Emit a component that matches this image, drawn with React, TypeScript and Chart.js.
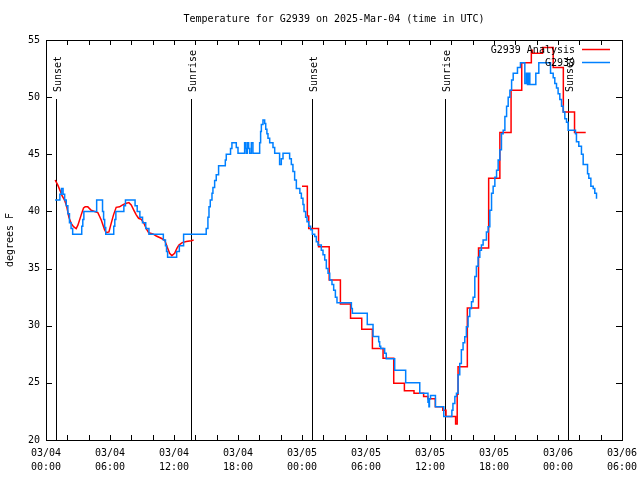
import React, { useEffect, useRef } from "react";
import { Chart, registerables } from "chart.js";

Chart.register(...registerables);

const TITLE = "Temperature for G2939 on 2025-Mar-04 (time in UTC)";
const Y_TITLE = "degrees F";
const SERIES_NAMES = ["G2939 Analysis", "G2939"];
const SERIES_COLORS = ["#ff0000", "#0080ff"];

// hours since 03/04 00:00 UTC
const X_MIN = 0;
const X_MAX = 54;
const Y_MIN = 20;
const Y_MAX = 55;
const Y_TICKS = [20, 25, 30, 35, 40, 45, 50, 55];
const X_MINOR_TICKS = [0, 2, 4, 6, 8, 10, 12, 14, 16, 18, 20, 22, 24, 26, 28, 30, 32, 34, 36, 38, 40, 42, 44, 46, 48, 50, 52, 54];
const X_LABEL_HOURS = [0, 6, 12, 18, 24, 30, 36, 42, 48, 54];
const X_LABEL_DATES = ["03/04", "03/04", "03/04", "03/04", "03/05", "03/05", "03/05", "03/05", "03/06", "03/06"];
const X_LABEL_TIMES = ["00:00", "06:00", "12:00", "18:00", "00:00", "06:00", "12:00", "18:00", "00:00", "06:00"];

const EVENT_HOURS = [0.91, 13.57, 24.91, 37.43, 48.91];
const EVENT_NAMES = ["Sunset", "Sunrise", "Sunset", "Sunrise", "Sunset"];

// Observations (G2939)
const OBS_HOURS = [
  0.85, 1.3, 1.45, 1.6, 1.75, 1.9, 2.05, 2.2, 2.35, 2.5,
  3.35, 3.45, 3.55, 4.75, 5.3, 5.4, 5.5, 5.6, 6.35, 6.45,
  6.55, 7.3, 7.45, 8.35, 8.55, 8.8, 9.05, 9.35, 9.65, 11.0,
  11.2, 11.3, 11.4, 12.25, 12.5, 12.9, 15.02, 15.18, 15.28, 15.4,
  15.56, 15.65, 15.81, 15.96, 16.18, 16.81, 16.9, 17.3, 17.43, 17.84,
  18.0, 18.62, 18.71, 18.78, 18.87, 19.0, 19.09, 19.25, 19.4, 20.03,
  20.12, 20.19, 20.34, 20.5, 20.6, 20.71, 20.81, 20.97, 21.28, 21.44,
  21.9, 22.06, 22.22, 22.84, 23.0, 23.15, 23.31, 23.47, 23.8, 23.94,
  24.09, 24.19, 24.34, 24.47, 24.63, 24.81, 24.97, 25.19, 25.34, 25.5,
  25.81, 25.97, 26.13, 26.28, 26.44, 26.6, 26.81, 26.97, 27.13, 27.28,
  28.63, 28.72, 30.12, 30.66, 31.19, 31.28, 31.38, 31.75, 31.9, 32.69,
  33.72, 35.04, 35.81, 35.9, 35.95, 36.05, 36.51, 37.29, 38.05, 38.15,
  38.33, 38.48, 38.63, 38.79, 38.94, 39.1, 39.26, 39.41, 39.57, 39.73,
  39.89, 40.04, 40.2, 40.35, 40.51, 40.67, 40.82, 40.98, 41.29, 41.45,
  41.61, 41.77, 41.92, 42.08, 42.24, 42.39, 42.55, 42.7, 42.86, 43.02,
  43.18, 43.33, 43.49, 43.65, 43.8, 44.2, 44.48, 44.89, 45.04, 45.14,
  45.26, 45.36, 45.92, 46.2, 47.3, 47.55, 47.7, 47.86, 48.01, 48.17,
  48.33, 48.48, 48.64, 48.8, 48.95, 49.64, 49.73, 49.95, 50.2, 50.36,
  50.77, 50.89, 51.08, 51.3, 51.45, 51.61,
];
const OBS_TEMPS = [
  41, 41.5, 42, 41.5, 41, 40.5, 39.8, 39, 38.5, 38,
  38.7, 39.3, 40, 41, 40, 39.3, 38.6, 38, 38.7, 39.3,
  40, 40.5, 41, 40.5, 40, 39.5, 39, 38.5, 38, 37.5,
  37, 36.5, 36, 36.5, 37, 38, 38.5, 39.5, 40.4, 41,
  41.6, 42.1, 42.7, 43.2, 44, 44.5, 45, 45.5, 46, 45.6,
  45.1, 46, 45.5, 45.1, 46, 45.5, 45.1, 46, 45.1, 46,
  47, 47.6, 48, 47.7, 47.2, 46.8, 46.4, 46, 45.6, 45.1,
  44.1, 44.6, 45.1, 44.6, 44.1, 43.5, 42.75, 42, 41.6, 41.15,
  40.6, 40, 39.5, 39.1, 38.7, 38.4, 38, 37.8, 37.35, 37.06,
  36.6, 36.2, 35.75, 35, 34.6, 34, 33.6, 33.1, 32.5, 32,
  31.5, 31.1, 30.1, 29.05, 28.6, 28.2, 28, 27.6, 27.1, 26.1,
  25, 24.1, 23.3, 22.9, 23.6, 23.9, 22.9, 22.05, 22.6, 23.2,
  23.8, 24.1, 25.7, 26.7, 27.9, 28.5, 29.04, 29.9, 30.8, 31.5,
  32.1, 32.5, 34.3, 35.2, 36, 36.6, 37.06, 37.5, 38.2, 38.67,
  40.1, 41.6, 42.2, 43, 43.6, 44.5, 45.4, 46.8, 47.1, 48.3,
  49.2, 50, 50.6, 51.5, 52.1, 52.6, 53, 51.2, 52.1, 51.1,
  52.1, 51.1, 52.1, 53, 52.1, 51.7, 51.2, 50.8, 50.3, 49.8,
  49.2, 48.7, 48.1, 47.8, 47.1, 46.8, 46.1, 45.7, 45, 44.1,
  43.3, 42.9, 42.2, 42, 41.6, 41.1,
];

// Analysis, first run (fine resolution)
const ANA1_HOURS = [
  0.86, 1.11, 1.33, 1.49, 1.74, 1.95, 2.14, 2.36, 2.58, 2.83,
  2.99, 3.3, 3.52, 3.67, 3.92, 4.24, 4.55, 4.86, 5.18, 5.49,
  5.64, 5.9, 6.11, 6.33, 6.58, 6.9, 7.15, 7.46, 7.77, 7.99,
  8.24, 8.46, 8.68, 8.93, 9.18, 9.4, 9.62, 10.02, 10.34, 10.8,
  11.12, 11.37, 11.59, 11.8, 12.06, 12.27, 12.46, 12.77, 13.15, 13.62,
  13.84,
];
const ANA1_TEMPS = [
  42.75, 42.3, 41.8, 41.4, 41.0, 40.4, 39.5, 38.96, 38.67, 38.5,
  38.8, 39.7, 40.3, 40.4, 40.4, 40.1, 40.0, 39.9, 39.25, 38.4,
  38.14, 38.2, 38.96, 39.7, 40.36, 40.4, 40.56, 40.7, 40.77, 40.56,
  40.1, 39.7, 39.4, 39.3, 38.96, 38.5, 38.14, 38.03, 37.85, 37.65,
  37.5, 36.86, 36.33, 36.13, 36.33, 36.77, 37.06, 37.27, 37.36, 37.44,
  37.5,
];

// Analysis, second run (hourly steps)
const ANA2_HOURS = [
  24.0, 24.5, 24.63, 25.55, 26.55, 27.6, 28.55, 29.6, 30.6, 31.6,
  32.6, 33.6, 34.5, 35.4, 35.8, 36.5, 37.2, 37.5, 38.4, 38.55,
  38.63, 39.5, 40.55, 41.5, 42.55, 43.6, 44.6, 45.5, 45.6, 46.55,
  47.55, 48.5, 49.55, 50.6,
];
const ANA2_TEMPS = [
  42.2, 39.6, 38.5, 36.9, 34.0, 31.9, 30.65, 29.7, 28.0, 27.15,
  24.96, 24.3, 24.1, 23.8, 23.6, 22.9, 22.6, 22.05, 21.4, 24.0,
  26.4, 31.55, 36.8, 42.9, 46.9, 50.6, 53.0, 54.1, 53.85, 54.35,
  52.6, 48.7, 46.9, 46.9,
];

const FONT_FAMILY = '"DejaVu Sans Mono", monospace';
const FONT = `10px ${FONT_FAMILY}`;

const toPoints = (xs: number[], ys: number[]) => xs.map((x, i) => ({ x, y: ys[i] }));

const framePlugin = {
  id: "gnuplotFrame",
  beforeDatasetsDraw(chart: any) {
    const { ctx, chartArea, scales } = chart;
    const xs = scales.x;
    ctx.save();
    ctx.strokeStyle = "#000";
    ctx.lineWidth = 1;
    ctx.fillStyle = "#000";
    ctx.font = FONT;
    EVENT_HOURS.forEach((h, i) => {
      const px = Math.round(xs.getPixelForValue(h)) + 0.5;
      ctx.beginPath();
      ctx.moveTo(px, chartArea.top + 59);
      ctx.lineTo(px, chartArea.bottom);
      ctx.stroke();
      ctx.save();
      ctx.translate(px + 4, chartArea.top + 52);
      ctx.rotate(-Math.PI / 2);
      ctx.textAlign = "left";
      ctx.textBaseline = "alphabetic";
      ctx.fillText(EVENT_NAMES[i], 0, 0);
      ctx.restore();
    });
    ctx.restore();
  },
  afterDraw(chart: any) {
    const { ctx, chartArea, scales } = chart;
    const { left, right, top, bottom } = chartArea;
    const xs = scales.x;
    const ys = scales.y;
    ctx.save();
    ctx.strokeStyle = "#000";
    ctx.lineWidth = 1;
    ctx.strokeRect(Math.round(left) + 0.5, Math.round(top) + 0.5, Math.round(right - left), Math.round(bottom - top));
    ctx.beginPath();
    const tick = 5;
    X_MINOR_TICKS.forEach((h) => {
      const px = Math.round(xs.getPixelForValue(h)) + 0.5;
      ctx.moveTo(px, bottom);
      ctx.lineTo(px, bottom - tick);
      ctx.moveTo(px, top);
      ctx.lineTo(px, top + tick);
    });
    Y_TICKS.forEach((v) => {
      const py = Math.round(ys.getPixelForValue(v)) + 0.5;
      ctx.moveTo(left, py);
      ctx.lineTo(left + tick + 1, py);
      ctx.moveTo(right, py);
      ctx.lineTo(right - tick - 1, py);
    });
    ctx.stroke();

    // key
    ctx.font = FONT;
    ctx.fillStyle = "#000";
    ctx.textAlign = "right";
    ctx.textBaseline = "middle";
    SERIES_NAMES.forEach((name, i) => {
      const y = top + 10 + i * 13;
      ctx.fillText(name, right - 47, y);
      ctx.strokeStyle = SERIES_COLORS[i];
      ctx.lineWidth = 1.5;
      ctx.beginPath();
      ctx.moveTo(right - 40, y - 0.5);
      ctx.lineTo(right - 12, y - 0.5);
      ctx.stroke();
    });
    ctx.restore();
  },
};

export default function App() {
  const canvasRef = useRef<HTMLCanvasElement>(null);

  useEffect(() => {
    const canvas = canvasRef.current;
    if (!canvas) return;
    const chart = new Chart(canvas, {
      type: "line",
      data: {
        datasets: [
          {
            label: SERIES_NAMES[1],
            data: toPoints(OBS_HOURS, OBS_TEMPS),
            borderColor: SERIES_COLORS[1],
            borderWidth: 1.5,
            pointRadius: 0,
            stepped: "before",
            fill: false,
            order: 0,
          },
          {
            label: SERIES_NAMES[0],
            data: toPoints(ANA1_HOURS, ANA1_TEMPS),
            borderColor: SERIES_COLORS[0],
            borderWidth: 1.5,
            pointRadius: 0,
            fill: false,
            tension: 0,
            order: 1,
          },
          {
            label: SERIES_NAMES[0],
            data: toPoints(ANA2_HOURS, ANA2_TEMPS),
            borderColor: SERIES_COLORS[0],
            borderWidth: 1.5,
            pointRadius: 0,
            stepped: "before",
            fill: false,
            order: 1,
          },
        ],
      },
      options: {
        responsive: false,
        maintainAspectRatio: false,
        devicePixelRatio: 1,
        animation: false,
        layout: { padding: { left: 0, right: 18, top: 0, bottom: 0 } },
        plugins: {
          legend: { display: false },
          tooltip: { enabled: false },
          title: {
            display: true,
            text: TITLE,
            color: "#000",
            fullSize: false,
            font: { family: FONT_FAMILY, size: 10, weight: "normal", lineHeight: 1.4 },
            padding: { top: 12, bottom: 14 },
          },
        },
        scales: {
          x: {
            type: "linear",
            min: X_MIN,
            max: X_MAX,
            afterFit: (s: any) => {
              s.height = 40;
              s.paddingLeft = 0;
              s.paddingRight = 0;
            },
            afterBuildTicks: (s: any) => {
              s.ticks = X_LABEL_HOURS.map((v) => ({ value: v }));
            },
            grid: { display: false, drawTicks: false },
            border: { display: false },
            ticks: {
              autoSkip: false,
              maxRotation: 0,
              minRotation: 0,
              padding: 6,
              color: "#000",
              font: { family: FONT_FAMILY, size: 10, lineHeight: 1.4 },
              callback: (v: any) => {
                const i = X_LABEL_HOURS.indexOf(Number(v));
                return i >= 0 ? [X_LABEL_DATES[i], X_LABEL_TIMES[i]] : "";
              },
            },
          },
          y: {
            type: "linear",
            min: Y_MIN,
            max: Y_MAX,
            afterFit: (s: any) => {
              s.width = 46;
              s.paddingTop = 0;
              s.paddingBottom = 0;
            },
            afterBuildTicks: (s: any) => {
              s.ticks = Y_TICKS.map((v) => ({ value: v }));
            },
            grid: { display: false, drawTicks: false },
            border: { display: false },
            title: {
              display: true,
              text: Y_TITLE,
              color: "#000",
              font: { family: FONT_FAMILY, size: 10, lineHeight: 1.4 },
              padding: { top: 3, bottom: 0 },
            },
            ticks: {
              padding: 6,
              color: "#000",
              font: { family: FONT_FAMILY, size: 10 },
            },
          },
        },
      },
      plugins: [framePlugin],
    } as any);
    return () => chart.destroy();
  }, []);

  return (
    <div style={{ position: "fixed", left: 0, top: 0, width: 640, height: 480, background: "#fff" }}>
      <canvas ref={canvasRef} width={640} height={480} style={{ display: "block", width: 640, height: 480 }} />
    </div>
  );
}
